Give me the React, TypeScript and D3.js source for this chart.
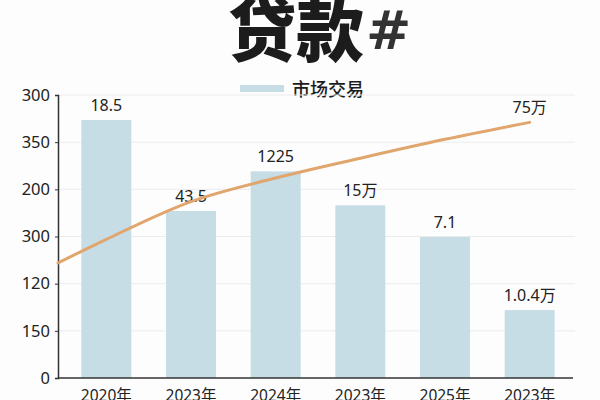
import React, { useEffect, useRef } from 'react'
import * as d3 from 'd3'

const categories = ['2020年', '2023年', '2024年', '2023年', '2025年', '2023年']
const barValues = [273.5, 177, 219, 183, 149.5, 72]
const barLabels = ['18.5', '43.5', '1225', '15万', '7.1', '1.0.4万']
const lineStart = 122
const lineValues = [147, 187, 212, 233, 253, 271]
const lineEndLabel = '75万'
const yTicks = [0, 50, 100, 150, 200, 250, 300]
const yTickLabels = ['0', '150', '120', '300', '200', '350', '300']
const legendLabel = '市场交易'

const FONT = '"Noto Sans", "Noto Sans CJK SC", sans-serif'

export default function App() {
    const svgRef = useRef<SVGSVGElement>(null)

    useEffect(() => {
        const svg = d3.select(svgRef.current)
        svg.selectAll('*').remove()

        const left = 58, right = 575, top = 95, bottom = 378

        const x = d3.scaleBand<number>()
            .domain(categories.map((_, i) => i))
            .range([64, 572])
            .paddingInner(0.41)
            .paddingOuter(0.205)

        const y = d3.scaleLinear().domain([0, 300]).range([bottom, top])

        svg.append('rect').attr('width', 600).attr('height', 400).attr('fill', '#fdfdfd')

        // title
        svg.append('text')
            .attr('x', 228).attr('y', 56)
            .text('贷款')
            .style('font-family', '"Noto Sans CJK SC", sans-serif')
            .style('font-weight', 900)
            .style('font-size', '68px')
            .attr('fill', '#1c1c1c')
        svg.append('text')
            .attr('x', 366).attr('y', 49)
            .text('#')
            .style('font-family', '"DejaVu Sans", sans-serif')
            .style('font-weight', 700)
            .style('font-size', '54px')
            .attr('fill', '#333')

        // legend
        svg.append('rect').attr('x', 240).attr('y', 85).attr('width', 44).attr('height', 7).attr('fill', '#c6dde6')
        svg.append('text').attr('x', 292).attr('y', 96)
            .text(legendLabel)
            .style('font-family', '"Noto Sans CJK SC", sans-serif')
            .style('font-weight', 500)
            .style('font-size', '18px').attr('fill', '#1c1c1c')

        // gridlines
        svg.append('g').selectAll('line').data(yTicks.slice(1)).join('line')
            .attr('x1', left).attr('x2', right)
            .attr('y1', d => y(d)).attr('y2', d => y(d))
            .attr('stroke', '#ececec').attr('stroke-width', 1)

        // bars
        svg.append('g').selectAll('rect').data(barValues).join('rect')
            .attr('x', (_, i) => x(i)!)
            .attr('width', x.bandwidth())
            .attr('y', d => y(d))
            .attr('height', d => bottom - y(d))
            .attr('fill', '#c6dde6')

        svg.append('g').selectAll('text').data(barValues).join('text')
            .attr('x', (_, i) => x(i)! + x.bandwidth() / 2)
            .attr('y', d => y(d) - 9)
            .attr('text-anchor', 'middle')
            .text((_, i) => barLabels[i])
            .style('font-family', FONT).style('font-size', '16px').attr('fill', '#222')

        // y axis
        const yAxis = svg.append('g')
            .attr('transform', `translate(${left},0)`)
            .call(d3.axisLeft(y).tickValues(yTicks).tickSize(3).tickFormat((_, i) => yTickLabels[i]))
        yAxis.select('.domain').attr('stroke', '#333').attr('stroke-width', 1.5)
        yAxis.selectAll('.tick line').attr('stroke', '#333')
        yAxis.selectAll('.tick text')
            .attr('x', -8)
            .style('font-family', FONT).style('font-size', '16.5px').attr('fill', '#222')

        // x axis
        svg.append('line')
            .attr('x1', left).attr('x2', 573).attr('y1', bottom).attr('y2', bottom)
            .attr('stroke', '#333').attr('stroke-width', 1.5)
        svg.append('g').selectAll('text').data(categories).join('text')
            .attr('x', (_, i) => x(i)! + x.bandwidth() / 2)
            .attr('y', 401)
            .attr('text-anchor', 'middle')
            .text(d => d)
            .style('font-family', FONT).style('font-size', '15.5px').attr('fill', '#222')

        // line
        const pts: [number, number][] = [[left, y(lineStart)]]
        lineValues.forEach((v, i) => pts.push([x(i)! + x.bandwidth() / 2, y(v)]))
        svg.append('path')
            .attr('d', d3.line().curve(d3.curveMonotoneX)(pts))
            .attr('fill', 'none')
            .attr('stroke', '#e1a56e')
            .attr('stroke-width', 3)
            .attr('stroke-linecap', 'round')

        const last = pts[pts.length - 1]
        svg.append('text')
            .attr('x', last[0]).attr('y', last[1] - 9)
            .attr('text-anchor', 'middle')
            .text(lineEndLabel)
            .style('font-family', FONT).style('font-size', '16px').attr('fill', '#222')
    }, [])

    return (
        <svg ref={svgRef} width={600} height={400} style={{ position: 'absolute', left: 0, top: 0 }} />
    )
}
